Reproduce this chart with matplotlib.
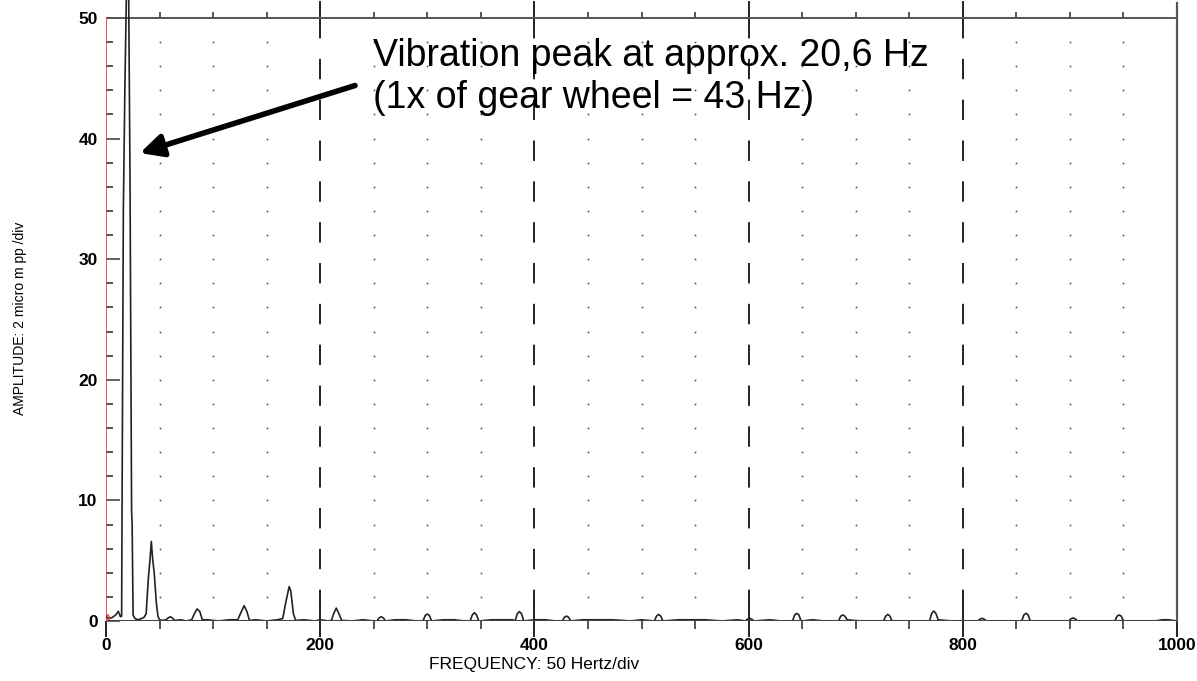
import numpy as np
import matplotlib.pyplot as plt
from matplotlib.transforms import blended_transform_factory

plt.rcParams['font.family'] = ['Liberation Sans Narrow', 'Liberation Sans', 'DejaVu Sans']

# spectrum trace (Hz, amplitude in div units)
freq_hz = [0, 3, 6, 9, 11.5, 13.5, 14.6, 14.9, 16.2, 17.6, 20.5, 22.4, 23.9, 24.4, 25.3,
           27, 30, 33, 35.5, 37.5, 39.5, 41.0, 42.3, 43.5, 45.0, 47.0, 48.5, 50,
           53, 56, 58, 60, 62, 64, 70, 75, 80, 82.5, 85, 87.5, 90, 95,
           105, 115, 123, 126.5, 129, 131.5, 134, 140, 150, 160,
           165, 168, 171, 172.5, 175, 177, 185, 195, 200, 208,
           210.5, 212.5, 215, 217.5, 220, 230, 240, 250,
           253, 255, 257, 259, 261, 270, 280, 290,
           296, 298, 300, 302, 304, 315, 325, 335,
           340, 342, 344, 346, 348, 360, 370, 380,
           382, 384, 386, 388, 390, 400, 410, 420,
           426, 428, 430, 432, 434, 445, 460, 473, 490, 500,
           512, 514, 516, 518, 520, 535, 550, 559, 575, 590,
           597, 599, 601, 603, 605, 620, 630,
           641, 643, 645, 647, 649, 660, 670, 680,
           684, 686, 688, 690, 692, 705, 715,
           726, 728, 730, 732, 734, 745, 760,
           769, 771, 773, 775, 777, 790, 805,
           814, 816, 818, 820, 822, 835, 845,
           855, 857, 859, 861, 863, 875, 890,
           899, 901, 903, 905, 907, 920, 930,
           942, 944, 946, 948, 950, 965, 980, 986, 989, 992, 1000]
amp = [0.35, 0.2, 0.3, 0.5, 0.8, 0.35, 0.4, 7.5, 34, 44, 60, 37, 9.1, 8.0, 0.5,
       0.2, 0.1, 0.2, 0.3, 0.6, 3.5, 5.0, 6.6, 5.2, 4.0, 1.5, 0.4, 0.1,
       0.05, 0.1, 0.25, 0.35, 0.25, 0.05, 0.1, 0.0, 0.1, 0.6, 1.0, 0.8, 0.1, 0.1,
       0.0, 0.1, 0.1, 0.8, 1.27, 0.8, 0.05, 0.1, 0.0, 0.1,
       0.2, 1.6, 2.85, 2.5, 0.6, 0.05, 0.1, 0.0, 0.1, 0.0,
       0.05, 0.6, 1.07, 0.6, 0.05, 0.0, 0.1, 0.0,
       0.0, 0.25, 0.36, 0.25, 0.0, 0.1, 0.1, 0.0,
       0.0, 0.45, 0.58, 0.45, 0.0, 0.1, 0.1, 0.0,
       0.0, 0.5, 0.69, 0.5, 0.0, 0.1, 0.1, 0.1,
       0.0, 0.6, 0.78, 0.6, 0.0, 0.1, 0.1, 0.0,
       0.0, 0.3, 0.41, 0.3, 0.0, 0.1, 0.1, 0.1, 0.0, 0.1,
       0.0, 0.4, 0.55, 0.4, 0.0, 0.1, 0.1, 0.1, 0.0, 0.1,
       0.0, 0.15, 0.22, 0.15, 0.0, 0.1, 0.0,
       0.0, 0.5, 0.64, 0.5, 0.0, 0.1, 0.0, 0.0,
       0.0, 0.4, 0.5, 0.4, 0.1, 0.0, 0.0,
       0.0, 0.4, 0.55, 0.4, 0.0, 0.0, 0.0,
       0.0, 0.65, 0.83, 0.6, 0.1, 0.0, 0.0,
       0.0, 0.15, 0.22, 0.15, 0.0, 0.0, 0.0,
       0.0, 0.5, 0.64, 0.5, 0.0, 0.0, 0.0,
       0.0, 0.18, 0.25, 0.18, 0.0, 0.0, 0.0,
       0.0, 0.4, 0.5, 0.4, 0.0, 0.0, 0.0, 0.1, 0.1, 0.1, 0.0]

y_labels = [0, 10, 20, 30, 40, 50]
x_labels = [0, 200, 400, 600, 800, 1000]

fig = plt.figure(figsize=(11.97, 6.81), dpi=100)
ax = fig.add_axes([106 / 1197, 60 / 681, 1071 / 1197, 621 / 681])
ax.set_xlim(0, 1000)
ax.set_ylim(0, 51.49)
for s in ax.spines.values():
    s.set_visible(False)

# dotted grid every 50 Hz / 2 div, dashed lines every 200 Hz
gx = [x for x in range(50, 1000, 50) if x % 200 != 0]
gy = list(range(2, 50, 2))
GX, GY = np.meshgrid(gx, gy)
ax.plot(GX.ravel(), GY.ravel(), ls='none', marker='s', ms=1.2, mew=0, color='#555555')
for x in x_labels[1:-1]:
    ax.plot([x, x], [50, 0], color='#222222', lw=1.4, ls=(0, (10.5, 10.5)))
    ax.plot([x, x], [0, 1.8], color='#222222', lw=1.4)
    ax.plot([x, x], [50, 51.3], color='#222222', lw=1.4)

# top line with little ticks
ax.plot([0, 1000], [50, 50], color='#555555', lw=1.4)
ax.vlines(gx, 50, 50.5, color='#555555', lw=1.4)
# right frame and red left spine
ax.plot([1000, 1000], [0, 51.2], color='#555555', lw=1.6, clip_on=False)
ax.plot([0, 0], [0, 50], color='#ee3333', lw=1.2)

ax.plot(freq_hz, amp, color='#222222', lw=1.2)
ax.plot([0, 1000], [0, 0], color='#444444', lw=1.5)
ax.plot([0], [0.35], marker='o', ms=4, mfc='none', mec='#ee3333', mew=1)

ax.set_xticks(x_labels)
ax.set_xticks(range(0, 1001, 50), minor=True)
ax.set_yticks(y_labels)
ax.set_yticks(range(0, 51, 2), minor=True)
ax.tick_params(axis='x', which='major', direction='out', length=11.5, width=1.4,
               color='#222222', pad=1, labelsize=12.5)
ax.tick_params(axis='x', which='minor', direction='out', length=5.8, width=1.3, color='#444444')
ax.tick_params(axis='y', which='major', direction='in', length=10, width=1.3,
               color='#555555', pad=6, labelsize=12.5)
ax.tick_params(axis='y', which='minor', direction='in', length=5, width=1.3, color='#444444')
for lab in ax.get_xticklabels() + ax.get_yticklabels():
    lab.set_fontweight('bold')

trans = blended_transform_factory(ax.transData, fig.transFigure)
ax.text(400, 1 - 664 / 681, 'FREQUENCY: 50 Hertz/div', transform=trans,
        ha='center', va='center', fontsize=12.5)
fig.text(20 / 1197, 1 - 318 / 681, 'AMPLITUDE: 2 micro m pp /div', rotation=90,
         ha='center', va='center', fontsize=10)

ax.annotate('', xy=(31.7, 38.8), xytext=(232.5, 44.4),
            arrowprops=dict(arrowstyle='-|>', lw=4, color='black', mutation_scale=34,
                            shrinkA=0, shrinkB=0))
fig.text(373 / 1197, 1 - 56 / 681, 'Vibration peak at approx. 20,6 Hz',
         family='Liberation Sans', fontsize=27, va='center', ha='left')
fig.text(373 / 1197, 1 - 98 / 681, '(1x of gear wheel = 43 Hz)',
         family='Liberation Sans', fontsize=27, va='center', ha='left')

fig.savefig('out.png', dpi=100)
